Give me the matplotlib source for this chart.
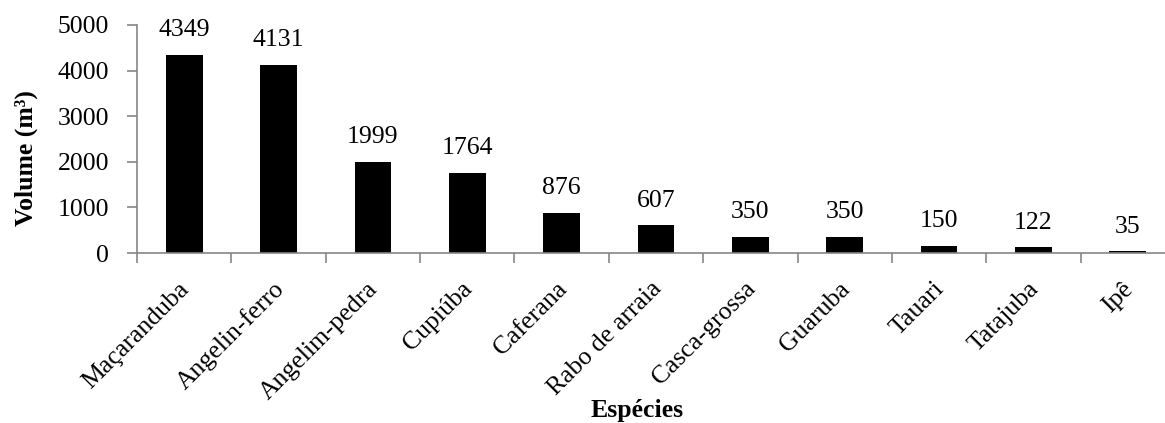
import matplotlib
matplotlib.use("Agg")
import matplotlib.pyplot as plt
import matplotlib.transforms as mtransforms

species = ["Maçaranduba", "Angelin-ferro", "Angelim-pedra", "Cupiúba", "Caferana",
           "Rabo de arraia", "Casca-grossa", "Guaruba", "Tauari", "Tatajuba", "Ipê"]
volume = [4349, 4131, 1999, 1764, 876, 607, 350, 350, 150, 122, 35]
yticks = [0, 1000, 2000, 3000, 4000, 5000]

plt.rcParams["font.family"] = ["Liberation Serif", "DejaVu Serif"]
FS = 18.5

W, H = 1165, 423
fig = plt.figure(figsize=(W / 100, H / 100), dpi=100)
x0, x1 = 137, 1175
y0, y1 = 253, 25
ax = fig.add_axes([x0 / W, 1 - y0 / H, (x1 - x0) / W, (y0 - y1) / H])

pos = list(range(len(species)))
ax.bar(pos, volume, width=0.39, color="black")
for p, v in zip(pos, volume):
    ax.annotate(str(v), (p, v), xytext=(0, 13.5), textcoords="offset points",
                ha="center", va="baseline", fontsize=FS)

ax.set_xlim(-0.5, len(species) - 0.5)
ax.set_ylim(0, 5000)
ax.set_yticks(yticks)
ax.set_yticklabels([str(t) for t in yticks], fontsize=FS)

ax.set_xticks(pos)
ax.set_xticklabels(species, rotation=45, ha="right", va="top",
                   rotation_mode="anchor", fontsize=FS)
ax.tick_params(axis="x", length=0, pad=10)
shift = mtransforms.ScaledTranslation(-0.06, -0.11, fig.dpi_scale_trans)
for lbl in ax.get_xticklabels():
    lbl.set_transform(lbl.get_transform() + shift)
# category boundary ticks
ax.set_xticks([p - 0.5 for p in pos] + [len(species) - 0.5], minor=True)
ax.tick_params(axis="x", which="minor", length=7, color="#868686", width=1.2)
ax.tick_params(axis="y", length=7, color="#868686", width=1.2, pad=13)

for s in ("top", "right"):
    ax.spines[s].set_visible(False)
for s in ("left", "bottom"):
    ax.spines[s].set_color("#868686")
    ax.spines[s].set_linewidth(1.2)

fig.text(26 / W, 1 - 158 / H, "Volume (m³)", rotation=90, ha="center", va="center",
         fontsize=FS, fontweight="bold")
fig.text(637 / W, 1 - 410 / H, "Espécies", ha="center", va="center",
         fontsize=FS, fontweight="bold")

fig.savefig("out.png", dpi=100)
